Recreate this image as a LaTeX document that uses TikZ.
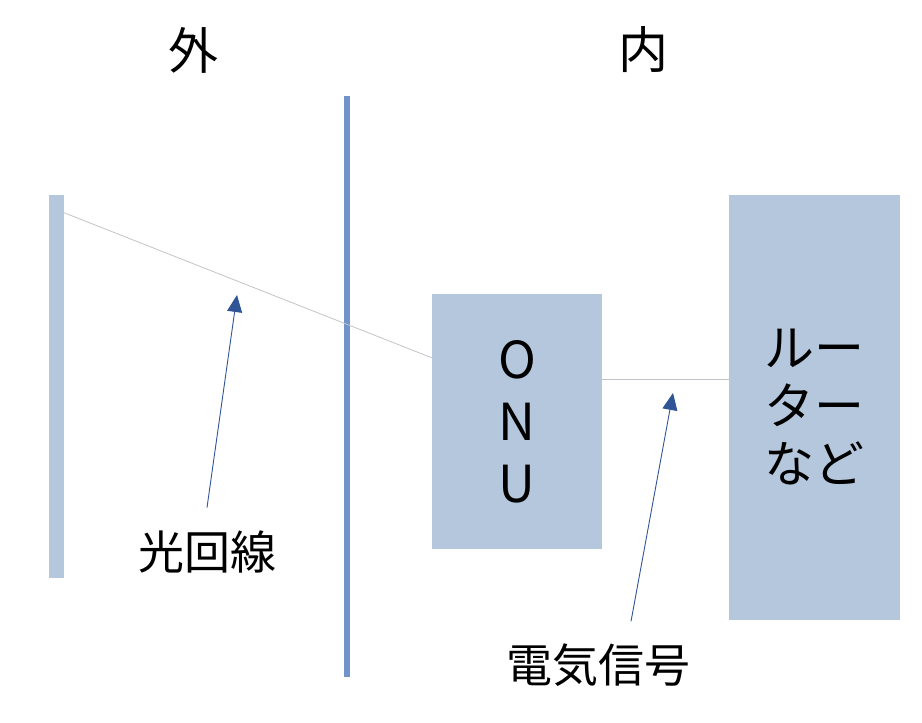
\documentclass[tikz,border=0pt]{standalone}
\usepackage{fontspec}
\newfontfamily\jpfont{Noto Sans CJK JP}
\usetikzlibrary{arrows.meta,positioning}
\definecolor{boxblue}{HTML}{B4C7DC}
\definecolor{wallblue}{HTML}{7094CA}
\definecolor{fibgray}{HTML}{C0C4CA}
\definecolor{arrowblue}{HTML}{2F5597}

\begin{document}
\begin{tikzpicture}[x=1pt,y=-1pt,
  box/.style={fill=boxblue,draw=none,inner sep=0pt},
  tag/.style={font=\jpfont\fontsize{46}{50}\selectfont,text=black,inner sep=3pt},
  pointer/.style={-{Triangle[length=17pt,width=15pt]},draw=arrowblue,line width=0.9pt},
  cable/.style={draw=fibgray,line width=0.8pt}]
\useasboundingbox (0,0) rectangle (922,723);

\node[tag,font=\jpfont\fontsize{50}{54}\selectfont] at (193,50) (outside) {外};
\node[tag,font=\jpfont\fontsize{50}{54}\selectfont] at (643,50) (inside) {内};

\node[box,minimum width=15pt,minimum height=383pt] at (56.5,386.5) (bar) {};
\node[fill=wallblue,inner sep=0pt,minimum width=6pt,minimum height=581pt] at (347,386.5) (wall) {};

\node[box,minimum width=170pt,minimum height=255pt,align=center,
  font=\jpfont\fontsize{51}{62}\selectfont] at (517,421.5) (onu) {O\\N\\U};
\node[box,minimum width=171pt,minimum height=425pt,align=center,
  font=\jpfont\fontsize{50}{58}\selectfont] at (814.5,407.5) (router) {ルー\\ター\\など};

% cables
\draw[cable] ([yshift=-18pt]bar.north east) -- ([yshift=-64pt]onu.north west);
\coordinate (sig) at ([yshift=42.5pt]onu.east);
\draw[cable] (sig) -- (sig -| router.west);

\node[tag] at (207,552) (fiber) {光回線};
\node[tag] at (598,665) (signal) {電気信号};

\coordinate (fibtip) at (237,295);
\coordinate (sigtip) at (673,393);
\draw[pointer] ([yshift=20pt]fiber.north) -- (fibtip);
\draw[pointer] ([xshift=33pt,yshift=19pt]signal.north) -- (sigtip);
\end{tikzpicture}
\end{document}
